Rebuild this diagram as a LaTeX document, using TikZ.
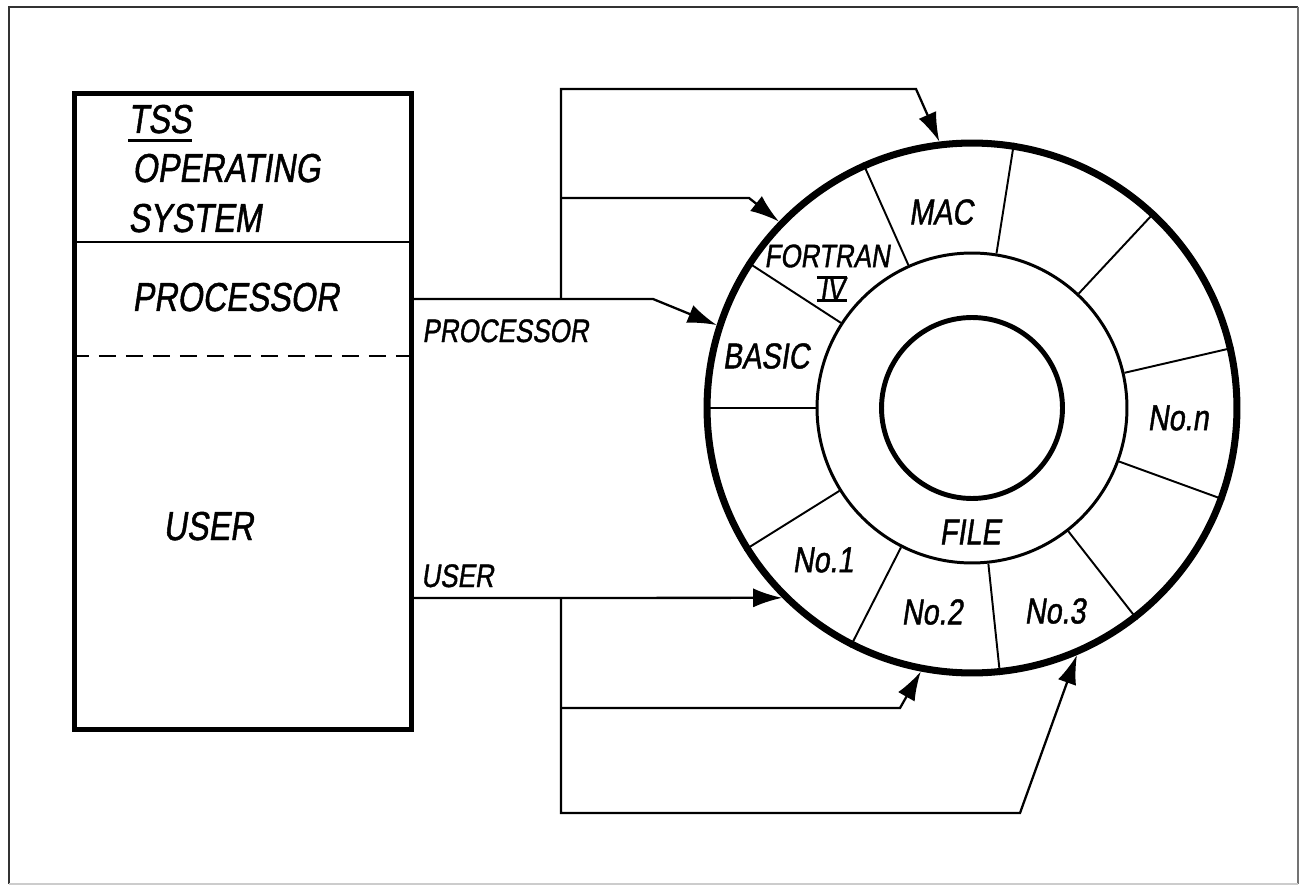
\documentclass[tikz,border=0pt]{standalone}
\usepackage{fontspec}
\newfontfamily\hand{Liberation Sans}[FakeStretch=0.8,FakeSlant=0.15,FakeBold=1.2]
\usetikzlibrary{arrows.meta}

\begin{document}
\begin{tikzpicture}[x=0.02cm,y=-0.02cm,
    big/.style={font=\hand\fontsize{23}{26}\selectfont,inner sep=0},
    lbl/.style={font=\hand\fontsize{18.5}{21}\selectfont,inner sep=0},
    seg/.style={font=\hand\fontsize{20.5}{23}\selectfont,inner sep=0},
    feed/.style={line width=1.3pt,-{Latex[length=0.58cm,width=0.38cm]}},
    ring/.style={circle,draw,minimum size=#1}]
  \useasboundingbox (0,0) rectangle (1301,888);
  \draw[black!80,line width=1pt] (1298,7) -- (9,7) -- (9,884);
  \draw[black!55,line width=0.8pt] (1298,7) -- (1298,884);
  \draw[black!20,line width=0.6pt] (9,884) -- (1298,884);

  % memory map
  \node[draw,line width=2.8pt,minimum width=6.74cm,minimum height=12.72cm,anchor=north west] (mem) at (72,91) {};
  \draw[line width=1.2pt] (mem.west |- 0,242) -- (mem.east |- 0,242);
  \draw[line width=1.5pt,dash pattern=on 0.34cm off 0.2cm] (mem.west |- 0,356) -- (mem.east |- 0,356);
  \node[big,anchor=base west] (tss) at (128,133) {TSS};
  \draw[line width=1.6pt] ([yshift=-0.14cm]tss.south west) -- ([yshift=-0.14cm]tss.south east);
  \node[big,anchor=base west] (oper) at (132,182) {OPERATING};
  \node[big,anchor=base west] (syst) at (128,232) {SYSTEM};
  \node[big,anchor=base west] (proc) at (132,311) {PROCESSOR};
  \node[big,anchor=base west] (user) at (163,540) {USER};

  % drum
  \node[ring=10.6cm,line width=4pt] (disk) at (972,408) {};
  \node[ring=6.2cm,line width=1.7pt] (file) at (972,408) {};
  \node[ring=3.62cm,line width=2.8pt] (hub) at (972,408) {};
  \foreach \a in {180,147,114,81,47,13,-20,-52,-84,-117,-148}
    \draw[line width=1.1pt] (file.\a) -- (disk.\a);
  \node[seg] (mac) at (941,212) {MAC};
  \node[lbl] (fort) at (827,256) {FORTRAN};
  \node[lbl,inner xsep=0.05cm] (iv) at (832,289) {IV};
  \draw[line width=1.2pt] (iv.north west) -- (iv.north east);
  \draw[line width=1.2pt] (iv.south west) -- (iv.south east);
  \node[seg] (basic) at (766,356) {BASIC};
  \node[seg] (non) at (1178,418) {No.n};
  \node[seg] (filelbl) at (970,532) {FILE};
  \node[seg] (no1) at (823,560) {No.1};
  \node[seg] (no2) at (932,612) {No.2};
  \node[seg] (no3) at (1055,611) {No.3};

  % processor feeds
  \coordinate (pj) at (561,299);
  \draw[feed] (mem.east |- pj) -- (653,299) -- (disk.162);
  \draw[feed] (pj) -- (561,89) -- (916,89) -- (disk.97);
  \draw[feed] (561,198) -- (749,198) -- (disk.136);
  \node[lbl,anchor=base west] (plbl) at (422,342) {PROCESSOR};

  % user feeds
  \coordinate (uj) at (561,598);
  \draw[feed] (mem.east |- uj) -- (disk.-135);
  \draw[feed] (uj) -- (561,813) -- (1020,813) -- (disk.-67);
  \draw[feed] (561,708) -- (900,708) -- (disk.-101);
  \node[lbl,anchor=base west] (ulbl) at (421,587) {USER};
\end{tikzpicture}
\end{document}
